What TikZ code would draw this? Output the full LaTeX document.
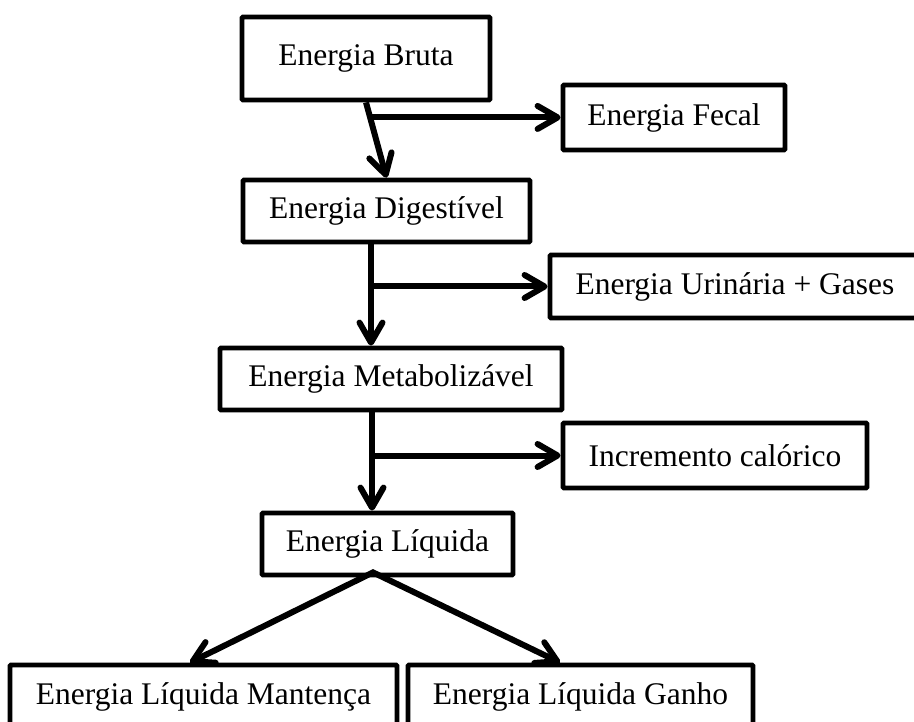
\documentclass[tikz,border=0pt]{standalone}
\usepackage{fontspec}
\setmainfont{Liberation Serif}
\usetikzlibrary{arrows.meta,calc}
\begin{document}
\begin{tikzpicture}[x=1pt,y=-1pt,
  >={Straight Barb[length=20pt,width=23pt,round]},
  box/.style={draw,line width=4.8pt,rounded corners=1pt,inner sep=0pt,
    font=\fontsize{31.5}{36}\selectfont},
  arr/.style={line width=6pt,->},
  darr/.style={line width=6pt,<->,line join=miter}]
\useasboundingbox (0,0) rectangle (914,722);
\node[box,minimum width=248pt,minimum height=83pt] (bruta) at (366,58.5) {Energia Bruta\hspace{29pt}};
\node[box,minimum width=222pt,minimum height=65pt] (fecal) at (674,117.5) {Energia Fecal};
\node[box,minimum width=287pt,minimum height=62pt] (dig) at (386.5,211) {Energia Digestível};
\node[box,minimum width=370pt,minimum height=63pt] (uri) at (735,286.5) {Energia Urinária + Gases};
\node[box,minimum width=342pt,minimum height=62pt] (metab) at (391,379) {Energia Metabolizável\hspace{6pt}};
\node[box,minimum width=304pt,minimum height=65pt] (inc) at (715,455.5) {Incremento calórico};
\node[box,minimum width=251pt,minimum height=62pt] (liq) at (387.5,544) {Energia Líquida};
\node[box,minimum width=387pt,minimum height=64pt] (mant) at (203.5,697) {Energia Líquida Mantença};
\node[box,minimum width=345pt,minimum height=64pt] (ganho) at (580.5,697) {Energia Líquida Ganho};

\draw[arr] (bruta.south) -- (dig.north);
\coordinate (b1) at ($(bruta.south)!0.2!(dig.north)$);
\draw[arr] (b1) -- (b1 -| fecal.west);

\coordinate (d0) at ($(dig.south)+(-15.5,0)$);
\draw[arr] (d0) -- (d0 |- metab.north);
\draw[arr] (d0 |- uri.west) -- (uri.west);

\coordinate (m0) at ($(metab.south)+(-19,0)$);
\draw[arr] (m0) -- (m0 |- liq.north);
\draw[arr] (m0 |- inc.west) -- (inc.west);

\coordinate (l0) at ($(liq.south)+(-14.5,-5)$);
\draw[darr] ($(mant.north)+(-13.5,0)$) -- (l0) -- ($(ganho.north)+(-20.5,0)$);
\end{tikzpicture}
\end{document}
